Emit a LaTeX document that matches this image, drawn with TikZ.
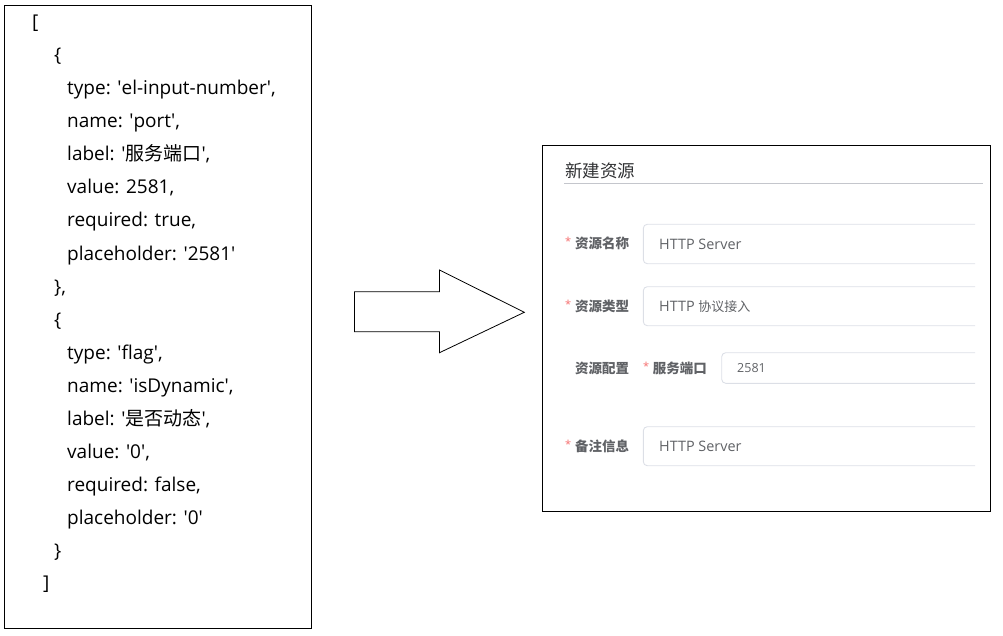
\documentclass[tikz,border=0pt]{standalone}
\usepackage{fontspec}
\setmainfont{Open Sans}
\newfontfamily\cjk{Noto Sans CJK SC}
\newcommand{\sq}{\textquotesingle}
\definecolor{lbl}{HTML}{606266}
\definecolor{ttl}{HTML}{303133}
\definecolor{req}{HTML}{F56C6C}
\definecolor{bd}{HTML}{DCDFE6}
\definecolor{ulc}{HTML}{C4C6CC}
\definecolor{inp}{HTML}{606266}
\tikzset{
  frame/.style={draw=black, line width=1pt},
  code/.style={anchor=base west, inner sep=0pt, font=\fontsize{19}{22}\selectfont},
  title/.style={anchor=west, inner sep=0pt, text=ttl, font=\cjk\fontsize{17.5}{20}\selectfont},
  lab/.style={anchor=west, inner sep=0pt, text=lbl, font=\cjk\bfseries\fontsize{13.5}{16}\selectfont},
  star/.style={anchor=west, inner sep=0pt, text=req, font=\fontsize{11}{12}\selectfont},
  intext/.style={anchor=west, inner sep=0pt, text=inp, font=\fontsize{14.4}{16}\selectfont},
  inbox/.style={draw=bd, line width=0.9pt, rounded corners=4pt},
  bigarrow/.style={draw=black, line width=0.8pt, fill=white},
}
\begin{document}
\begin{tikzpicture}[x=1pt,y=-1pt]
\useasboundingbox (0,0) rectangle (1003,636);
% left frame
\draw[frame] (4.5,5.5) rectangle (311.5,628.3);
\node[code] (c0)  at (32,29)  {[};
\node[code] (c1)  at (54,62)  {\{};
\node[code] (c2)  at (67,95)  {type: \sq el-input-number\sq,};
\node[code] (c3)  at (67,128) {name: \sq port\sq,};
\node[code] (c4)  at (67,161) {label: \sq{\cjk 服务端口}\sq,};
\node[code] (c5)  at (67,194) {value: 2581,};
\node[code] (c6)  at (67,227) {required: true,};
\node[code] (c7)  at (67,260) {placeholder: \sq 2581\sq};
\node[code] (c8)  at (54,293) {\},};
\node[code] (c9)  at (54,326) {\{};
\node[code] (c10) at (67,359) {type: \sq flag\sq,};
\node[code] (c11) at (67,392) {name: \sq isDynamic\sq,};
\node[code] (c12) at (67,425) {label: \sq{\cjk 是否动态}\sq,};
\node[code] (c13) at (67,458) {value: \sq 0\sq,};
\node[code] (c14) at (67,491) {required: false,};
\node[code] (c15) at (67,524) {placeholder: \sq 0\sq};
\node[code] (c16) at (54,557) {\}};
\node[code] (c17) at (43,589) {]};
% big arrow
\draw[bigarrow] (354.5,291.7) -- (439.5,291.7) -- (439.5,270) -- (524.3,312.3)
  -- (439.5,352.7) -- (439.5,331.7) -- (354.5,331.7) -- cycle;
% right frame
\draw[frame] (542.5,145.5) rectangle (990.5,511);
\node[title] (t) at (565,171) {新建资源};
\draw[ulc, line width=0.9pt] (564,183) -- (983,183);
% row 1
\node[star] (s1) at (565,241) {*};
\node[lab] (l1) at (575,243.5) {资源名称};
\draw[inbox] (975,224.3) -- (643.3,224.3) -- (643.3,263.7) -- (975,263.7);
\node[intext] (v1) at (659,244) {HTTP Server};
% row 2
\node[star] (s2) at (565,304) {*};
\node[lab] (l2) at (575,306.5) {资源类型};
\draw[inbox] (975,286.7) -- (643.3,286.7) -- (643.3,325.7) -- (975,325.7);
\node[intext] (v2) at (659,306.5) {HTTP {\cjk\fontsize{13}{16}\selectfont 协议接入}};
% row 3
\node[lab] (l3g) at (575,368.5) {资源配置};
\node[star] (s3) at (643,366) {*};
\node[lab] (l3) at (652.7,368.5) {服务端口};
\draw[inbox] (975,352.7) -- (721.7,352.7) -- (721.7,383.3) -- (975,383.3);
\node[intext, font=\fontsize{12.5}{14}\selectfont] (v3) at (737,368) {2581};
% row 4
\node[star] (s4) at (565,444) {*};
\node[lab] (l4) at (575,446.5) {备注信息};
\draw[inbox] (975,426.7) -- (643.3,426.7) -- (643.3,465.7) -- (975,465.7);
\node[intext] (v4) at (659,446) {HTTP Server};
\end{tikzpicture}
\end{document}
